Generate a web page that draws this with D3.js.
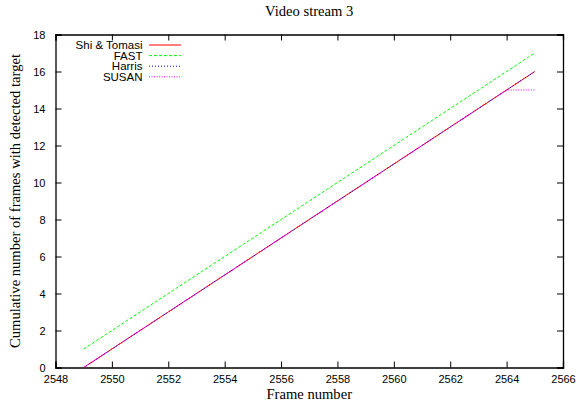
<!DOCTYPE html>
<html>
<head>
<meta charset="utf-8">
<script src="https://cdn.jsdelivr.net/npm/d3@7"></script>
<style>
  body { margin: 0; background: #fff; }
  .tick text { font-family: "Liberation Sans", Arial, sans-serif; font-size: 11px; fill: #000; }
  .lbl { font-family: "Liberation Serif", "Times New Roman", serif; font-size: 14.6px; fill: #000; }
  .leg { font-family: "Liberation Sans", Arial, sans-serif; font-size: 11.5px; fill: #000; }
</style>
</head>
<body>
<div id="chart"></div>
<script>
// data
var frames = [2549, 2550, 2551, 2552, 2553, 2554, 2555, 2556, 2557, 2558, 2559, 2560, 2561, 2562, 2563, 2564, 2565];
var shiTomasi = [0, 1, 2, 3, 4, 5, 6, 7, 8, 9, 10, 11, 12, 13, 14, 15, 16];
var fast = [1, 2, 3, 4, 5, 6, 7, 8, 9, 10, 11, 12, 13, 14, 15, 16, 17];
var harris = [0, 1, 2, 3, 4, 5, 6, 7, 8, 9, 10, 11, 12, 13, 14, 15, 16];
var susan = [0, 1, 2, 3, 4, 5, 6, 7, 8, 9, 10, 11, 12, 13, 14, 15, 15];
var seriesNames = ["Shi & Tomasi", "FAST", "Harris", "SUSAN"];
var xTicks = [2548, 2550, 2552, 2554, 2556, 2558, 2560, 2562, 2564, 2566];
var yTicks = [0, 2, 4, 6, 8, 10, 12, 14, 16, 18];

var svgWidth = 576;
var svgHeight = 402;
var margin = { top: 34.5, right: 13, bottom: 34.5, left: 55.5 };
var width = svgWidth - margin.left - margin.right;
var height = svgHeight - margin.top - margin.bottom;

var svg = d3.select("#chart").append("svg")
  .attr("width", svgWidth)
  .attr("height", svgHeight);

var g = svg.append("g")
  .attr("transform", `translate(${margin.left}, ${margin.top})`);

var x = d3.scaleLinear().domain([2548, 2566]).range([0, width]);
var y = d3.scaleLinear().domain([0, 18]).range([height, 0]);

// axes, ticks pointing inward (gnuplot style), mirrored on top/right
var tl = 6;
g.append("g").attr("transform", `translate(0, ${height})`)
  .call(d3.axisBottom(x).tickValues(xTicks).tickSize(-tl).tickPadding(tl + 2).tickFormat(d3.format("d")));
g.append("g")
  .call(d3.axisLeft(y).tickValues(yTicks).tickSize(-tl).tickPadding(tl + 4));
g.append("g")
  .call(d3.axisTop(x).tickValues(xTicks).tickSize(-tl).tickFormat(""));
g.append("g").attr("transform", `translate(${width}, 0)`)
  .call(d3.axisRight(y).tickValues(yTicks).tickSize(-tl).tickFormat(""));
g.selectAll(".domain").attr("stroke", "#000").attr("stroke-width", 1.3);
g.selectAll(".tick line").attr("stroke", "#000");

var series = [
  { name: seriesNames[0], vals: shiTomasi, color: "#ff0000", dash: null },
  { name: seriesNames[1], vals: fast, color: "#00ff00", dash: "3,2" },
  { name: seriesNames[2], vals: harris, color: "#0000ff", dash: "1,2" },
  { name: seriesNames[3], vals: susan, color: "#ff00ff", dash: "1,1.5" }
];

var line = d3.line()
  .x((d, i) => x(frames[i]))
  .y(d => y(d));

series.forEach(function(s) {
  g.append("path")
    .datum(s.vals)
    .attr("d", line)
    .attr("fill", "none")
    .attr("stroke", s.color)
    .attr("stroke-width", 1)
    .attr("stroke-dasharray", s.dash);
});

// legend
var legend = g.append("g");
series.forEach(function(s, i) {
  var ly = 10.5 + i * 10.6;
  legend.append("text")
    .attr("class", "leg")
    .attr("x", 87)
    .attr("y", ly)
    .attr("dy", "0.35em")
    .attr("text-anchor", "end")
    .text(s.name);
  legend.append("line")
    .attr("x1", 93.5).attr("x2", 125.5)
    .attr("y1", ly).attr("y2", ly)
    .attr("stroke", s.color)
    .attr("stroke-width", 1)
    .attr("stroke-dasharray", s.dash);
});

// title and axis labels
svg.append("text")
  .attr("class", "lbl")
  .attr("x", margin.left + width / 2)
  .attr("y", 16)
  .attr("text-anchor", "middle")
  .text("Video stream 3");

svg.append("text")
  .attr("class", "lbl")
  .attr("x", margin.left + width / 2)
  .attr("y", 399)
  .attr("text-anchor", "middle")
  .text("Frame number");

svg.append("text")
  .attr("class", "lbl")
  .attr("transform", `translate(20, ${margin.top + height / 2}) rotate(-90)`)
  .attr("text-anchor", "middle")
  .text("Cumulative number of frames with detected target");
</script>
</body>
</html>
